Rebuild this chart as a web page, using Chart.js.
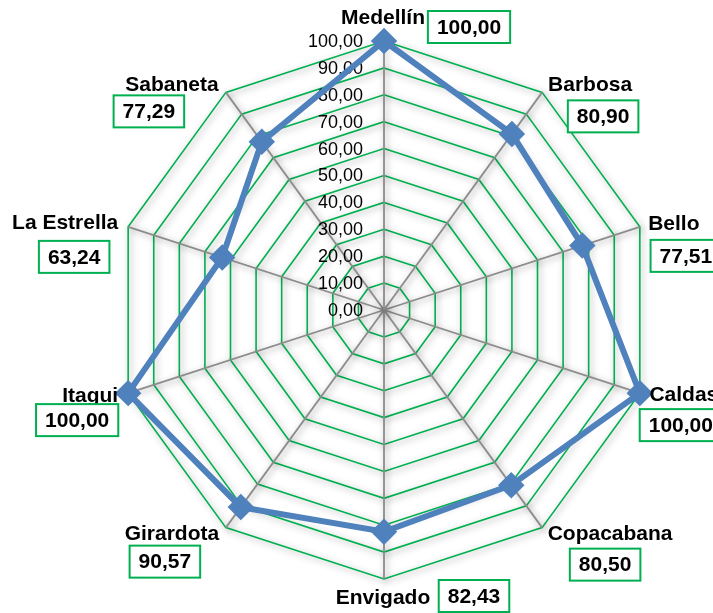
<!DOCTYPE html>
<html>
<head>
<meta charset="utf-8">
<script src="https://cdn.jsdelivr.net/npm/chart.js@4"></script>
<style>
  html, body { margin: 0; padding: 0; background: #fff; }
  canvas { display: block; }
</style>
</head>
<body>
<canvas id="myChart" width="713" height="613"></canvas>
<script>
const municipios = [
  "Medellín", "Barbosa", "Bello", "Caldas", "Copacabana",
  "Envigado", "Girardota", "Itagui", "La Estrella", "Sabaneta",
];
const valores = [100, 80.9, 77.51, 100, 80.5, 82.43, 90.57, 100, 63.24, 77.29];
const tickValues = [0, 10, 20, 30, 40, 50, 60, 70, 80, 90, 100];

// label offsets from each outer vertex: [name dx, name dy, box dx, box dy]
const labelOffsets = [
  [-1, -23, 85, -14],
  [48, -7, 61, 24],
  [34, -3, 46, 29],
  [44, 2, 41, 32],
  [68, 7, 63, 37],
  [-1, 19, 90, 17],
  [-54, 7, -61, 34],
  [-38, 3, -51, 27],
  [-63, -4, -54, 30],
  [-54, -7, -77, 19],
];

const fmt = (v) => v.toFixed(2).replace(".", ",");
const GREEN = "#00B050";
const FONT = "'Liberation Sans', Arial, sans-serif";

const decorPlugin = {
  id: "decor",
  beforeDraw(chart) {
    // soft shadow under the grid, like the original
    const ctx = chart.ctx;
    ctx.save();
    ctx.shadowColor = "rgba(0,0,0,0.4)";
    ctx.shadowBlur = 7;
    ctx.shadowOffsetX = 2;
    ctx.shadowOffsetY = 2;
  },
  beforeDatasetsDraw(chart) {
    const ctx = chart.ctx;
    ctx.restore();
    const scale = chart.scales.r;
    ctx.save();
    ctx.font = "18px " + FONT;
    ctx.fillStyle = "#000";
    ctx.textAlign = "right";
    ctx.textBaseline = "middle";
    tickValues.forEach((t) => {
      const y = scale.yCenter - scale.getDistanceFromCenterForValue(t);
      ctx.fillText(fmt(t), scale.xCenter - 21, y + 1);
    });
    ctx.restore();
  },
  afterDatasetsDraw(chart) {
    const ctx = chart.ctx;
    const scale = chart.scales.r;
    ctx.save();
    ctx.font = "bold 21px " + FONT;
    ctx.textAlign = "center";
    ctx.textBaseline = "middle";
    municipios.forEach((name, i) => {
      const p = scale.getPointPositionForValue(i, 100);
      const o = labelOffsets[i];
      ctx.fillStyle = "#000";
      ctx.fillText(name, p.x + o[0], p.y + o[1]);
      const txt = fmt(valores[i]);
      const w = ctx.measureText(txt).width + 18;
      const h = 32;
      const bx = p.x + o[2] - w / 2;
      const by = p.y + o[3] - h / 2;
      ctx.fillStyle = "#fff";
      ctx.fillRect(bx, by, w, h);
      ctx.strokeStyle = GREEN;
      ctx.lineWidth = 2;
      ctx.strokeRect(bx, by, w, h);
      ctx.fillStyle = "#000";
      ctx.fillText(txt, p.x + o[2], p.y + o[3] + 1);
    });
    ctx.restore();
  },
};

new Chart(document.getElementById("myChart"), {
  type: "radar",
  data: {
    labels: municipios,
    datasets: [
      {
        data: valores,
        borderColor: "#4F81BD",
        backgroundColor: "rgba(0,0,0,0)",
        borderWidth: 6,
        pointStyle: "rectRot",
        pointRadius: 9,
        pointBackgroundColor: "#4F81BD",
        pointBorderColor: "#4F81BD",
        fill: false,
        tension: 0,
      },
    ],
  },
  options: {
    responsive: false,
    animation: false,
    layout: {
      padding: { left: 115, right: 60, top: 41, bottom: 34 },
    },
    plugins: {
      legend: { display: false },
      tooltip: { enabled: false },
    },
    scales: {
      r: {
        min: 0,
        max: 100,
        ticks: { display: false, stepSize: 10 },
        pointLabels: { display: false },
        grid: { color: GREEN, lineWidth: 1.6 },
        angleLines: { color: "#8C8C8C", lineWidth: 1.8 },
      },
    },
  },
  plugins: [decorPlugin],
});
</script>
</body>
</html>
